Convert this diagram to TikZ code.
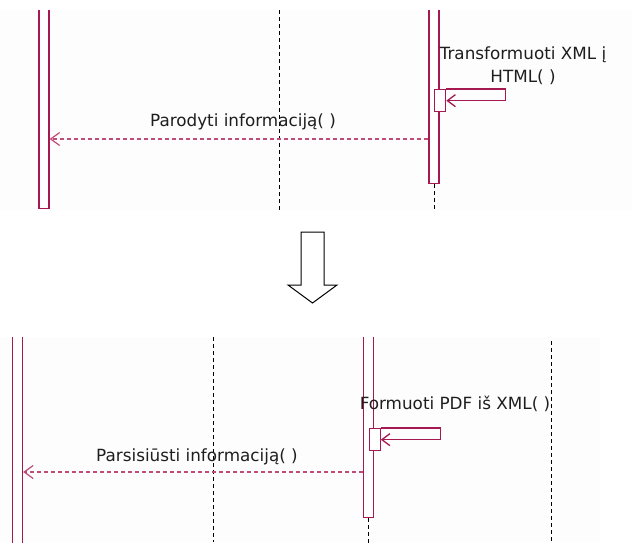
\documentclass[tikz,border=0pt]{standalone}
\usepackage{fontspec}
\setmainfont{DejaVu Sans}
\usetikzlibrary{positioning}
\usetikzlibrary{arrows.meta}
\definecolor{umlred}{RGB}{165,25,80}
\definecolor{umlpink}{RGB}{190,75,120}
\definecolor{panel}{RGB}{253,253,253}
\definecolor{txt}{RGB}{30,30,30}

\begin{document}
\begin{tikzpicture}
	[x=1pt,y=-1pt,
	 bar/.style={rectangle,draw=umlred,fill=white,line width=1.3pt,inner sep=0pt,minimum width=10pt},
	 act/.style={bar,minimum width=11pt,minimum height=22pt},
	 life/.style={black,line width=1pt,dash pattern=on 4pt off 3pt},
	 call/.style={umlred,line width=1.3pt,-{Straight Barb[length=8pt,width=12pt]}},
	 ret/.style={umlpink,line width=1.2pt,dash pattern=on 4pt off 3pt,-{Straight Barb[length=9pt,width=13pt]}},
	 lbl/.style={txt,font=\fontsize{16.8}{23}\selectfont,align=center,inner sep=0pt}]
	\useasboundingbox (0,0) rectangle (632,542);
	% before
	\begin{scope}
	\clip (0,10) rectangle (632,210);
	\fill[panel] (0,10) rectangle (632,210);
	\coordinate (midA) at (279,10);
	\coordinate (retA) at (0,139);
	\draw[life] (midA) -- ++(0,200);
	\node[bar,minimum height=208pt,anchor=north] (srcA) at (44,0) {};
	\node[bar,minimum height=183pt,anchor=north] (srvA) at (434,0) {};
	\node[act,anchor=north west] (selfA) at (434,89) {};
	\draw[life] (srvA.south) -- ++(0,27);
	\draw[call] (selfA.north east) -- ++(59,0) |- (selfA.east);
	\node[lbl] (msgA) at (523,66) {Transformuoti XML į\\HTML( )};
	\draw[ret] (srvA.west |- retA) -- (srcA.east |- retA);
	\node[lbl] (infoA) at (243,122) {Parodyti informaciją( )};
	\end{scope}
	% change
	\draw[line width=1pt] (301,232) -- (324,232) -- (324,285) -- (337,285)
		-- (312.5,303) -- (288,285) -- (301,285) -- cycle;
	% after
	\begin{scope}
	\clip (0,337) rectangle (632,542);
	\fill[panel] (0,337) rectangle (600,542);
	\coordinate (midB) at (213,337);
	\coordinate (endB) at (551,341);
	\coordinate (retB) at (0,472);
	\draw[life] (midB) -- ++(0,205);
	\draw[life] (endB) -- ++(0,201);
	\node[bar,minimum height=220pt,anchor=north] (srcB) at (17.5,330) {};
	\node[bar,minimum height=187pt,anchor=north] (srvB) at (368.5,330) {};
	\node[act,anchor=north west] (selfB) at (368.5,428) {};
	\draw[life] (srvB.south) -- ++(0,25);
	\draw[call] (selfB.north east) -- ++(60,0) |- (selfB.east);
	\node[lbl] (msgB) at (455,404) {Formuoti PDF iš XML( )};
	\draw[ret] (srvB.west |- retB) -- (srcB.east |- retB);
	\node[lbl] (infoB) at (197,457) {Parsisiūsti informaciją( )};
	\end{scope}
\end{tikzpicture}
\end{document}
